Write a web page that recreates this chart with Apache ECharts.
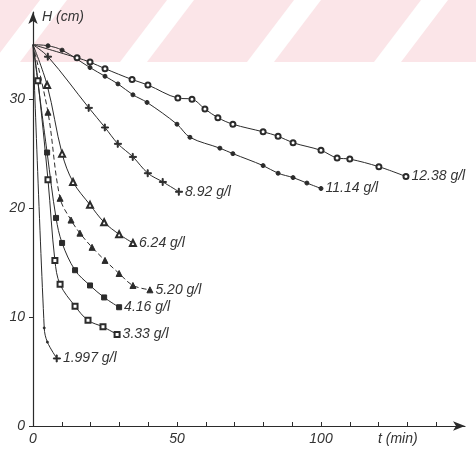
<!DOCTYPE html>
<html><head><meta charset="utf-8">
<script src="https://cdn.jsdelivr.net/npm/echarts@6/dist/echarts.min.js"></script>
<style>html,body{margin:0;padding:0;background:#fff}#c{width:476px;height:453px}</style>
</head><body><div id="c"></div>
<script>
// Data (t in min, H in cm)
const names = ['12.38 g/l','11.14 g/l','8.92 g/l','6.24 g/l','5.20 g/l','4.16 g/l','3.33 g/l','1.997 g/l'];
const t1238 = [0,15.3,19.8,25,34.4,39.9,50.3,55.2,59.7,64.2,69.4,79.9,85.1,90.3,100,105.6,110,120.1,129.5];
const H1238 = [35,33.8,33.4,32.8,31.8,31.3,30.1,30.0,29.1,28.3,27.7,27.0,26.6,26.0,25.3,24.6,24.5,23.8,22.9];
const t1114 = [0,5.2,10.1,19.8,25,29.5,34.7,39.6,50,54.5,64.9,69.4,79.9,85.1,90.3,95.1,100];
const H1114 = [35,34.9,34.5,32.9,32.1,31.4,30.4,29.7,27.7,26.5,25.5,25.0,23.9,23.2,22.8,22.3,21.8];
const t892 = [0,5.2,19.4,25,29.5,34.7,39.9,45.1,50.7];
const H892 = [35,33.9,29.2,27.4,25.9,24.7,23.2,22.4,21.5];
const t624 = [0,4.9,10.1,13.9,19.8,24.7,29.9,34.7];
const H624 = [35,31.3,25.0,22.4,20.3,18.7,17.6,16.8];
const t520 = [0,5.2,9.4,13.2,16.3,20.5,25,29.9,34.7,40.6];
const H520 = [35,28.8,20.9,18.9,17.7,16.4,15.2,14.0,12.9,12.5];
const t416 = [0,4.9,8,10.1,14.6,19.8,24.7,29.9];
const H416 = [35,25.1,19.1,16.8,14.3,12.9,11.8,10.9];
const t333 = [0,1.7,5.2,7.6,9.4,14.6,19.1,24.3,29.2];
const H333 = [35,31.7,22.6,15.2,13.0,11.0,9.7,9.1,8.4];
const t1997 = [0,3.9,5.0,8.3];
const H1997 = [35,9.0,7.7,6.2];
const xTickLabels = ['0','50','100'];
const yTickLabels = ['0','10','20','30'];

const ink = '#2b2b2b';
const crossPath = 'path://M4,0h1.4v4.3h4.6v1.4h-4.6v4.3h-1.4v-4.3h-4v-1.4h4z';
const styles = [
  {symbol:'emptyCircle', size:5, dash:'solid'},
  {symbol:'circle', size:4, dash:'solid'},
  {symbol:crossPath, size:7, dash:'solid'},
  {symbol:'emptyTriangle', size:6, dash:'solid'},
  {symbol:'triangle', size:6, dash:[5,3]},
  {symbol:'rect', size:5, dash:'solid'},
  {symbol:'emptyRect', size:5, dash:'solid'},
  {symbol:crossPath, size:7, dash:'solid'}
];
const ts = [t1238,t1114,t892,t624,t520,t416,t333,t1997];
const Hs = [H1238,H1114,H892,H624,H520,H416,H333,H1997];
const font = {fontFamily:'Liberation Sans', fontStyle:'italic', color:'#333', fontSize:14};

const series = names.map((n,i) => {
  const t = ts[i], H = Hs[i];
  const data = t.map((tv,j) => {
    const d = {value:[tv,H[j]]};
    if (j===0) d.symbol = 'none';
    if (i===7 && j>0 && j<t.length-1) { d.symbol = 'circle'; d.symbolSize = 2; }
    if (j===t.length-1) d.label = Object.assign({show:true, position:'right', distance:2, formatter:n}, font);
    return d;
  });
  return {
    type:'line', name:n, data, smooth:0.35, symbol:styles[i].symbol, symbolSize:styles[i].size,
    showAllSymbol:true,
    lineStyle:{color:ink, width:1, type:styles[i].dash},
    itemStyle:{color:ink, borderColor:ink, borderWidth:1},
    emphasis:{disabled:true}, animation:false
  };
});

// background watermark stripes
const stripes = [];
for (let k=-1;k<4;k++){
  const o = 127*k;
  stripes.push({type:'polygon', z:-10, silent:true,
    shape:{points:[[67+o,0],[167+o,0],[120+o,62],[20+o,62]]},
    style:{fill:'#fbe5e8'}});
}

const chart = echarts.init(document.getElementById('c'), null, {renderer:'canvas'});
chart.setOption({
  backgroundColor:'#fff',
  animation:false,
  grid:{left:33, right:11, top:12, bottom:27, containLabel:false},
  xAxis:{type:'value', min:0, max:150, interval:10,
    axisLine:{lineStyle:{color:ink, width:1.2}, symbol:['none','arrow'], symbolSize:[7,12]},
    axisTick:{inside:true, length:4, lineStyle:{color:ink}},
    splitLine:{show:false},
    axisLabel:Object.assign({formatter:v => xTickLabels.includes(String(v)) ? String(v) : '', margin:6, showMaxLabel:false}, font)
  },
  yAxis:{type:'value', min:0, max:38, interval:10,
    axisLine:{lineStyle:{color:ink, width:1.2}, symbol:['none','arrow'], symbolSize:[7,12]},
    axisTick:{length:4, lineStyle:{color:ink}},
    splitLine:{show:false},
    axisLabel:Object.assign({formatter:v => yTickLabels.includes(String(v)) ? String(v) : '', margin:8, showMaxLabel:false}, font)
  },
  graphic:stripes.concat([
    {type:'text', left:42, top:10, style:{text:'H (cm)', fill:'#333', font:'italic 14px "Liberation Sans"'}},
    {type:'text', left:378, top:432, style:{text:'t (min)', fill:'#333', font:'italic 14px "Liberation Sans"'}}
  ]),
  series
});
</script></body></html>
